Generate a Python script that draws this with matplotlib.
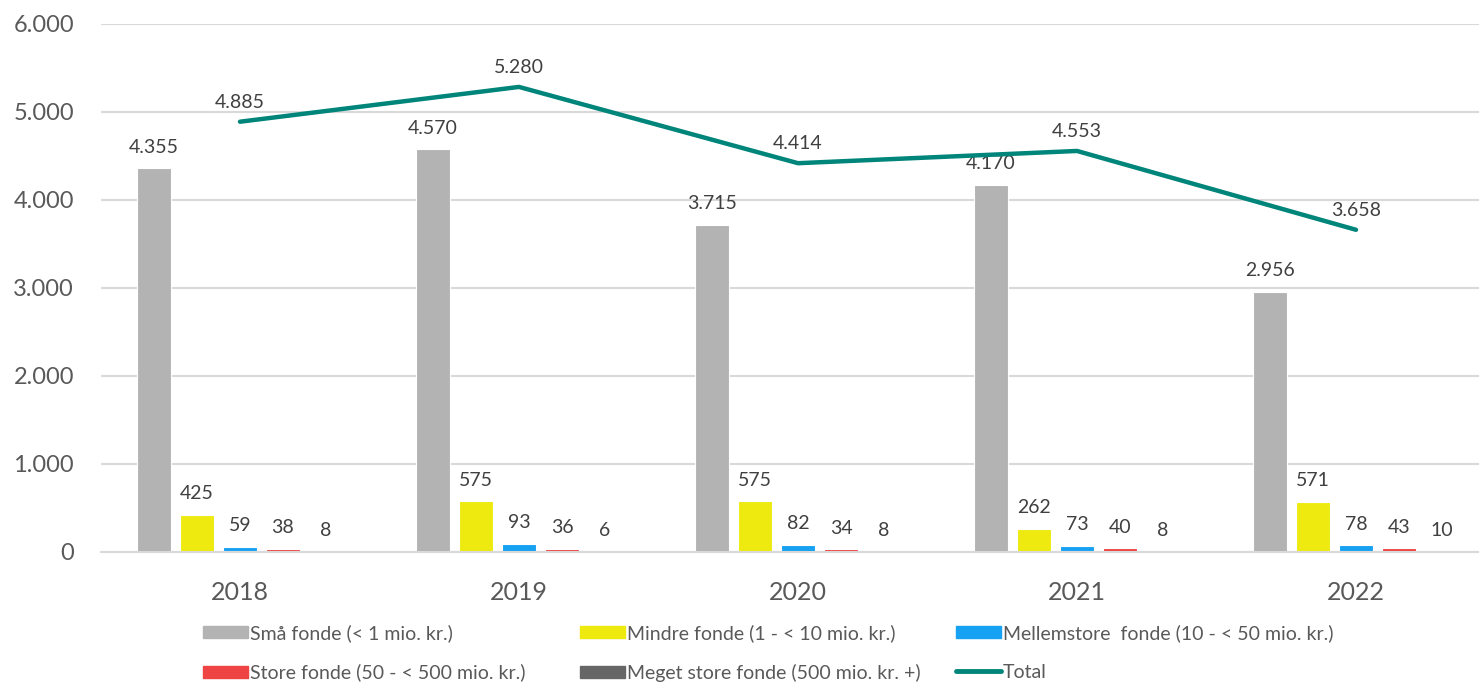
import numpy as np
import matplotlib.pyplot as plt
from matplotlib.lines import Line2D
from matplotlib.patches import Patch

plt.rcParams['font.family'] = ['Lato', 'DejaVu Sans']

years = ['2018', '2019', '2020', '2021', '2022']
smaa = [4355, 4570, 3715, 4170, 2956]
mindre = [425, 575, 575, 262, 571]
mellemstore = [59, 93, 82, 73, 78]
store = [38, 36, 34, 40, 43]
meget_store = [8, 6, 8, 8, 10]
total = [4885, 5280, 4414, 4553, 3658]

series_names = ['Små fonde (< 1 mio. kr.)',
                'Mindre fonde (1 - < 10 mio. kr.)',
                'Mellemstore  fonde (10 - < 50 mio. kr.)',
                'Store fonde (50 - < 500 mio. kr.)',
                'Meget store fonde (500 mio. kr. +)']
total_name = 'Total'
colors = ['#B3B3B3', '#EEEA10', '#17A1F2', '#EE4444', '#666666']
line_color = '#00857A'
txt = '#404040'


def fmt(v):
    return f"{v:,}".replace(',', '.')


W, H = 1479, 684
fig = plt.figure(figsize=(W / 100, H / 100), dpi=100)
# plot area: x 100.5..1495.5 px (cut off on the right), y 23.5..552 px
ax = fig.add_axes([100.5 / W, 1 - 552 / H, 1395 / W, (552 - 23.5) / H])

x = np.arange(len(years))
step = 0.154
bw = 0.122
all_series = [smaa, mindre, mellemstore, store, meget_store]
for k, (vals, c) in enumerate(zip(all_series, colors)):
    pos = x + (k - 2) * step
    ax.bar(pos, vals, width=bw, color=c, edgecolor='white', linewidth=0.8, zorder=2)
    for p, v in zip(pos, vals):
        ax.annotate(fmt(v), (p, v), xytext=(0, 9), textcoords='offset points',
                    ha='center', va='bottom', fontsize=14, color=txt)

ax.plot(x, total, color=line_color, linewidth=3.2,
        solid_capstyle='round', solid_joinstyle='round', zorder=3)
for p, v in zip(x, total):
    ax.annotate(fmt(v), (p, v), xytext=(0, 8), textcoords='offset points',
                ha='center', va='bottom', fontsize=14, color=txt)

ax.set_xlim(-0.5, len(years) - 0.5)
ax.set_ylim(0, 6000)
ax.set_yticks(np.arange(0, 6001, 1000))
ax.set_yticklabels([fmt(v) for v in range(0, 6001, 1000)])
ax.set_xticks(x)
ax.set_xticklabels(years)
ax.tick_params(axis='y', length=0, pad=19, labelsize=17, labelcolor='#595959')
ax.tick_params(axis='x', length=0, pad=21, labelsize=18, labelcolor='#595959')
ax.grid(axis='y', color='#D9D9D9', linewidth=1.5, zorder=0)
ax.set_axisbelow(True)
for s in ['top', 'right', 'left']:
    ax.spines[s].set_visible(False)
ax.spines['bottom'].set_color('#D9D9D9')
ax.spines['bottom'].set_linewidth(1.5)

# legend: three columns of two entries
handles = [Patch(color=c) for c in colors] + \
    [Line2D([0], [0], color=line_color, linewidth=3.5, solid_capstyle='round')]
labels = series_names + [total_name]
cols = [(0, 3), (1, 4), (2, 5)]
col_x = [203, 580, 956]
for (a, b), cx in zip(cols, col_x):
    fig.legend([handles[a], handles[b]], [labels[a], labels[b]],
               loc='upper left', bbox_to_anchor=(cx / W, 1 - 624 / H),
               frameon=False, fontsize=14, labelcolor='#595959',
               handlelength=2.3, handleheight=0.6, handletextpad=0.1,
               labelspacing=1.12, borderaxespad=0, borderpad=0)

fig.savefig('out.png', dpi=100)
